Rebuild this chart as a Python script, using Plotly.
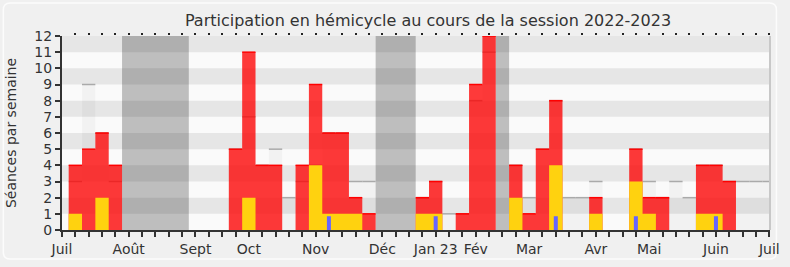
import plotly.graph_objects as go

# ---- data (one entry per week of the 2022-2023 session) ----
weeks = list(range(53))
presence = [4, 5, 6, 4, 0, 0, 0, 0, 0, 0, 0, 0, 5, 11, 4, 4, 0, 4, 9, 6,
            6, 2, 1, 0, 0, 0, 2, 3, 0, 1, 9, 12, 0, 4, 1, 5, 8, 0, 0, 2,
            0, 0, 5, 2, 2, 0, 0, 4, 4, 3, 0, 0, 0]
participation = [1, 0, 2, 0, 0, 0, 0, 0, 0, 0, 0, 0, 0, 2, 0, 0, 0, 0, 4, 1,
                 1, 1, 0, 0, 0, 0, 1, 1, 0, 0, 0, 0, 0, 2, 0, 0, 4, 0, 0, 1,
                 0, 0, 3, 1, 0, 0, 0, 1, 1, 0, 0, 0, 0]
questions = [0, 0, 0, 0, 0, 0, 0, 0, 0, 0, 0, 0, 0, 0, 0, 0, 0, 0, 0, 0.85,
             0, 0, 0, 0, 0, 0, 0, 0.85, 0, 0, 0, 0, 0, 0, 0, 0, 0.85, 0, 0, 0,
             0, 0, 0.85, 0, 0, 0, 0, 0, 0.85, 0, 0, 0, 0]
mediane = [3, 9, 6, 3, 0, 0, 0, 0, 0, 0, 0, 0, 5, 7, 4, 5, 2, 3, 4, 6,
           6, 3, 3, 0, 0, 0, 2, 3, 1, 1, 8, 11, 0, 4, 2, 5, 8, 2, 2, 3,
           0, 0, 5, 3, 2, 3, 2, 4, 4, 3, 3, 3, 3]
vacances = [4, 5, 6, 7, 8, 23, 24, 25, 32]
mois = ["Juil", "Août", "Sept", "Oct", "Nov", "Déc", "Jan 23", "Fév",
        "Mar", "Avr", "Mai", "Juin", "Juil"]
mois_semaine = [-1, 4, 9, 13, 18, 23, 27, 30, 34, 39, 43, 48, 52]
y_ticks = list(range(13))

FONT = "DejaVu Sans"
XR = [-1, 52.05]


def steps(values):
    """Week-wide step outline (each week spans w-0.5 .. w+0.5)."""
    xs = [w - 0.5 for w in weeks] + [weeks[-1] + 0.5]
    ys = list(values) + [values[-1]]
    return xs, ys


def top_segments(values):
    xs, ys = [], []
    for w, v in zip(weeks, values):
        if v > 0:
            xs += [w - 0.5, w + 0.5, None]
            ys += [v, v, None]
    return xs, ys


def thin_bars(values, half=0.15):
    xs, ys = [], []
    for w, v in zip(weeks, values):
        if v > 0:
            xs += [w - half, w - half, w + half, w + half, None]
            ys += [0, v, v, 0, None]
    return xs, ys


fig = go.Figure()

# median of all deputies: faint filled steps + grey top lines
sx, sy = steps(mediane)
fig.add_scatter(x=sx, y=sy, mode="lines", line=dict(shape="hv", width=0),
                fill="tozeroy", fillcolor="rgba(0,0,0,0.03)")
mx, my = top_segments(mediane)
fig.add_scatter(x=mx, y=my, mode="lines",
                line=dict(color="#aaaaaa", width=1.5))

# presence (red, translucent) + bright top edge
sx, sy = steps(presence)
fig.add_scatter(x=sx, y=sy, mode="lines", line=dict(shape="hv", width=0),
                fill="tozeroy", fillcolor="rgba(255,0,0,0.77)")
px_, py_ = top_segments(presence)
fig.add_scatter(x=px_, y=py_, mode="lines",
                line=dict(color="#ff0000", width=1.5))

# participation (yellow)
sx, sy = steps(participation)
fig.add_scatter(x=sx, y=sy, mode="lines", line=dict(shape="hv", width=0),
                fill="tozeroy", fillcolor="#ffd20f")

# questions orales (thin blue bars)
qx, qy = thin_bars(questions)
fig.add_scatter(x=qx, y=qy, mode="lines", line=dict(width=0),
                fill="toself", fillcolor="#6666ff")

# invisible trace on the top axis so its ticks are drawn
fig.add_scatter(x=[0], y=[0], xaxis="x2", mode="markers",
                marker=dict(opacity=0), hoverinfo="skip")

shapes = []
# vacation bands (merge consecutive weeks)
runs = []
for w in vacances:
    if runs and w == runs[-1][1] + 1:
        runs[-1][1] = w
    else:
        runs.append([w, w])
for a, b in runs:
    shapes.append(dict(type="rect", xref="x", yref="y", x0=a - 0.5, x1=b + 0.5,
                       y0=0, y1=12, fillcolor="#bebebe", line_width=0,
                       layer="below"))
# horizontal stripes (same layer as the bands, drawn over them)
for k in y_ticks[1:12:2]:
    shapes.append(dict(type="rect", xref="x", yref="y", x0=XR[0], x1=XR[1],
                       y0=k, y1=k + 1, fillcolor="rgba(0,0,0,0.08)",
                       line_width=0, layer="below"))
# right border of the plot
shapes.append(dict(type="line", xref="paper", yref="paper", x0=1, x1=1,
                   y0=0, y1=1, line=dict(color="#c8c8c8", width=2)))

# rounded frame around the whole chart (paper coordinates)
W_PLOT, H_PLOT, L, B = 718.0, 197.0, 62.0, 233.0


def X(p):
    return (p - L) / W_PLOT


def Y(p):
    return (B - p) / H_PLOT


x1, x2, y1, y2, r = 2.5, 786.5, 2.5, 262.5, 7
path = (f"M {X(x1 + r)} {Y(y1)} L {X(x2 - r)} {Y(y1)} "
        f"Q {X(x2)} {Y(y1)} {X(x2)} {Y(y1 + r)} "
        f"L {X(x2)} {Y(y2 - r)} Q {X(x2)} {Y(y2)} {X(x2 - r)} {Y(y2)} "
        f"L {X(x1 + r)} {Y(y2)} Q {X(x1)} {Y(y2)} {X(x1)} {Y(y2 - r)} "
        f"L {X(x1)} {Y(y1 + r)} Q {X(x1)} {Y(y1)} {X(x1 + r)} {Y(y1)} Z")
shapes.append(dict(type="path", xref="paper", yref="paper", path=path,
                   line=dict(color="#fcfcfc", width=1.5), layer="below"))

fig.update_layout(
    width=790, height=267,
    margin=dict(l=62, r=10, t=36, b=34, pad=0),
    paper_bgcolor="#f0f0f0", plot_bgcolor="#fafafa",
    showlegend=False,
    font=dict(family=FONT, color="#333333"),
    title=dict(text="Participation en hémicycle au cours de la session 2022-2023",
               x=428 / 790, xref="container", xanchor="center",
               y=1 - 20 / 267, yref="container", yanchor="middle",
               font=dict(size=16, color="#333333", family=FONT)),
    shapes=shapes,
    xaxis=dict(range=XR, showgrid=False, zeroline=False,
               showline=True, linecolor="#333333", linewidth=2,
               tickmode="array", tickvals=mois_semaine, ticktext=mois,
               ticks="outside", ticklen=5, tickwidth=1.5, tickcolor="#333333",
               tickfont=dict(size=14, color="#333333"),
               minor=dict(tickmode="array", tickvals=weeks, ticks="outside",
                          ticklen=5, tickwidth=1.5, tickcolor="#333333")),
    xaxis2=dict(range=XR, overlaying="x", side="top", showgrid=False,
                zeroline=False, showline=False, showticklabels=False,
                tickmode="array", tickvals=weeks, ticks="outside",
                ticklen=2, tickwidth=1.5, tickcolor="#222222"),
    yaxis=dict(range=[0, 12], showgrid=False, zeroline=False,
               showline=True, linecolor="#333333", linewidth=2,
               tickmode="array", tickvals=y_ticks,
               ticks="outside", ticklen=5, tickwidth=1.5, tickcolor="#333333",
               tickfont=dict(size=14, color="#333333"),
               title=dict(text="Séances par semaine", standoff=14,
                          font=dict(size=14, color="#333333"))),
)

fig.write_html("out.html")
